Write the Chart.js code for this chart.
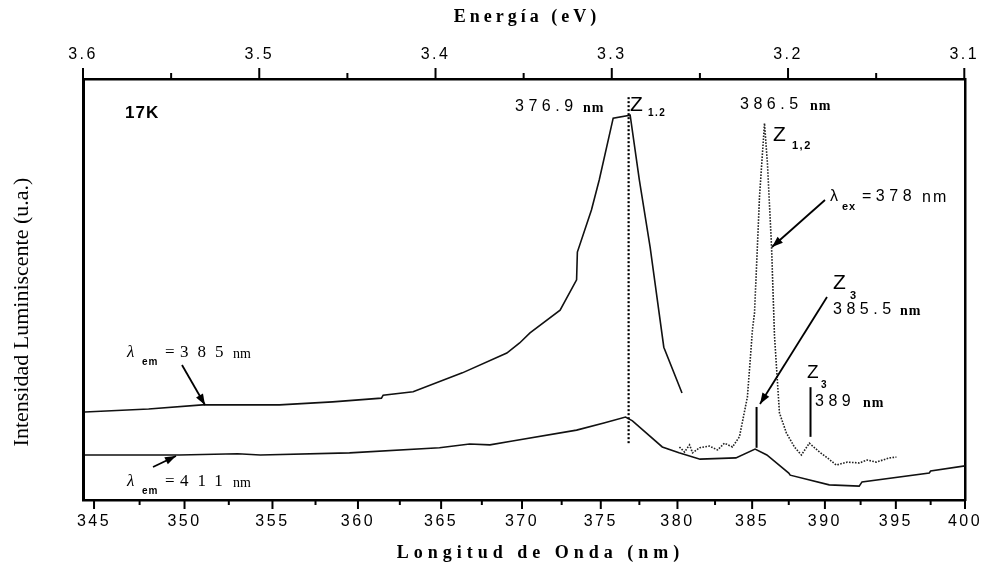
<!DOCTYPE html>
<html><head><meta charset="utf-8">
<script src="https://cdn.jsdelivr.net/npm/chart.js@4/dist/chart.umd.min.js"></script>
<style>html,body{margin:0;padding:0;background:#fff}canvas{display:block}</style>
</head><body>
<canvas id="c" width="984" height="573"></canvas>
<script>
const HC = 1239.84; // eV·nm, converts wavelength to energy
const energyMajor = [3.6, 3.5, 3.4, 3.3, 3.2, 3.1];
const energyMinor = [3.55, 3.45, 3.35, 3.25, 3.15];
const wavelengthMajor = [345, 350, 355, 360, 365, 370, 375, 380, 385, 390, 395, 400];
const wavelengthMinor = [347.5, 352.5, 357.5, 362.5, 367.5, 372.5, 377.5, 382.5, 387.5, 392.5, 397.5];

// λem = 385 nm (excitation spectrum)
const lamEm385 = [344.5, 348.0, 351.0, 355.4, 358.5, 361.4, 361.5, 363.3, 366.3, 369.05, 369.85, 370.5, 372.4, 373.45, 373.5, 374.4, 374.9, 375.8, 376.9, 377.5, 378.2, 379.1, 380.3];
const intEm385 = [20.9, 21.6, 22.6, 22.6, 23.3, 24.2, 24.9, 25.7, 30.2, 34.9, 37.3, 39.7, 45.1, 52.3, 58.9, 68.9, 76.0, 90.7, 91.4, 76.0, 60.1, 36.3, 25.4];

// λem = 411 nm
const lamEm411 = [344.5, 349.7, 353.0, 354.3, 359.5, 364.9, 366.75, 368.0, 369.4, 373.45, 375.2, 376.6, 377.05, 379.0, 380.1, 381.5, 383.9, 385.2, 386.0, 387.5, 387.6, 390.3, 392.4, 392.6, 397.4, 397.5, 400.0];
const intEm411 = [10.7, 10.7, 11.0, 10.7, 11.2, 12.4, 13.3, 13.1, 14.0, 16.6, 18.3, 19.7, 18.8, 12.6, 11.2, 9.7, 10.0, 12.1, 10.7, 6.4, 5.9, 3.6, 3.3, 4.3, 6.4, 6.9, 8.1];

// λex = 378 nm (emission spectrum, dotted)
const lamEx378 = [380.13, 380.47, 380.8, 381.0, 381.47, 382.12, 382.67, 383.13, 383.67, 384.14, 384.68, 385.02, 385.16, 385.5, 385.84, 386.04, 386.32, 386.52, 386.86, 387.34, 387.89, 388.37, 388.92, 389.62, 390.17, 390.79, 391.57, 392.42, 392.97, 393.61, 394.54, 395.04];
const intEx378 = [12.6, 11.4, 13.1, 11.2, 12.4, 12.8, 11.9, 13.5, 12.6, 15.0, 24.5, 40.4, 44.4, 72.0, 89.5, 80.0, 60.1, 39.2, 20.7, 15.9, 12.6, 10.7, 13.5, 11.4, 10.0, 8.3, 9.0, 8.8, 9.5, 9.0, 10.0, 10.2];

// peak marker lines: wavelength, low/high intensity
const markerLam = [376.8, 385.3, 389.0];
const markerLow = [13.5, 12.4, 15.0];
const markerHigh = [95.7, 22.1, 26.8];

const toE = l => HC / l;
const pts = (lam, val) => lam.map((l, i) => ({x: toE(l), y: val[i]}));

const SANS = "'Liberation Sans', Arial, sans-serif";
const SERIF = "'Liberation Serif', 'Times New Roman', serif";

function txt(ctx, s, x, y, font, ls) {
  ctx.font = font; ctx.letterSpacing = (ls || 0) + 'px';
  ctx.textAlign = 'left'; ctx.textBaseline = 'middle';
  ctx.fillText(s, x, y);
}
function ctxt(ctx, s, cx, cy, font, ls) {
  ctx.font = font; ctx.letterSpacing = (ls || 0) + 'px';
  const w = ctx.measureText(s).width - (ls || 0);
  ctx.textAlign = 'left'; ctx.textBaseline = 'middle';
  ctx.fillText(s, cx - w / 2, cy);
}
function arrow(ctx, x1, y1, x2, y2) {
  ctx.beginPath(); ctx.moveTo(x1, y1); ctx.lineTo(x2, y2); ctx.stroke();
  const a = Math.atan2(y2 - y1, x2 - x1), L = 11, W = 4;
  ctx.beginPath(); ctx.moveTo(x2, y2);
  ctx.lineTo(x2 - L * Math.cos(a) + W * Math.sin(a), y2 - L * Math.sin(a) - W * Math.cos(a));
  ctx.lineTo(x2 - L * Math.cos(a) - W * Math.sin(a), y2 - L * Math.sin(a) + W * Math.cos(a));
  ctx.closePath(); ctx.fill();
}

const decor = {
  id: 'decor',
  beforeDraw(chart) { chart.ctx.letterSpacing = '2.5px'; },
  beforeDatasetsDraw(chart) { chart.ctx.letterSpacing = '0px'; },
  afterDraw(chart) {
    const ctx = chart.ctx, xs = chart.scales.x, xt = chart.scales.xTop, ys = chart.scales.y, a = chart.chartArea;
    ctx.save();
    ctx.strokeStyle = '#000'; ctx.fillStyle = '#000'; ctx.lineWidth = 2;
    const vl = (x, y1, y2) => { ctx.beginPath(); ctx.moveTo(x, y1); ctx.lineTo(x, y2); ctx.stroke(); };
    // tick marks
    wavelengthMajor.forEach(l => vl(xs.getPixelForValue(toE(l)), a.bottom, a.bottom + 9));
    wavelengthMinor.forEach(l => vl(xs.getPixelForValue(toE(l)), a.bottom, a.bottom + 5));
    energyMajor.forEach(e => vl(xt.getPixelForValue(e), a.top, a.top - 11));
    energyMinor.forEach(e => vl(xt.getPixelForValue(e), a.top, a.top - 6));
    // marker lines
    markerLam.forEach((l, i) => {
      const x = xs.getPixelForValue(toE(l));
      if (i === 0) { ctx.setLineDash([2, 2]); ctx.lineWidth = 2.2; } else { ctx.setLineDash([]); ctx.lineWidth = 2; }
      vl(x, ys.getPixelForValue(markerLow[i]), ys.getPixelForValue(markerHigh[i]));
    });
    ctx.setLineDash([]); ctx.lineWidth = 1.8;
    // arrows
    arrow(ctx, 182, 365, 205, 405);
    arrow(ctx, 153, 467, 176, 456);
    arrow(ctx, 825, 200, 772, 247);
    arrow(ctx, 827, 297, 760, 404);
    // labels
    const num = '16px ' + SANS, nm = 'bold 14px ' + SERIF, sub = 'bold 10px ' + SANS;
    txt(ctx, '17K', 125, 113, 'bold 17px ' + SANS, 1);
    txt(ctx, '376.9', 515, 107, num, 4.5); txt(ctx, 'nm', 583, 108, nm, 1);
    txt(ctx, 'Z', 630, 105, '21px ' + SANS); txt(ctx, '1.2', 648, 113, sub, 1.5);
    txt(ctx, '386.5', 740, 105, num, 4.5); txt(ctx, 'nm', 810, 106, nm, 1);
    txt(ctx, 'Z', 773, 135, '21px ' + SANS); txt(ctx, '1,2', 792, 146, 'bold 11px ' + SANS, 1.5);
    txt(ctx, 'λ', 830, 197, '16px ' + SANS); txt(ctx, 'ex', 842, 207, 'bold 11px ' + SANS, 1);
    txt(ctx, '=378', 862, 197, num, 4.5); txt(ctx, 'nm', 922, 198, '16px ' + SANS, 2);
    txt(ctx, 'Z', 833, 283, '21px ' + SANS); txt(ctx, '3', 850, 296, 'bold 11px ' + SANS);
    txt(ctx, '385.5', 833, 310, num, 4.5); txt(ctx, 'nm', 900, 311, nm, 1);
    txt(ctx, 'Z', 807, 373, '19px ' + SANS); txt(ctx, '3', 821, 385, sub);
    txt(ctx, '389', 815, 402, num, 4.5); txt(ctx, 'nm', 863, 403, nm, 1);
    [[353, '385'], [482, '411']].forEach(([y, v]) => {
      txt(ctx, 'λ', 127, y, 'italic 17px ' + SERIF);
      txt(ctx, 'em', 142, y + 9, sub, 1);
      txt(ctx, '=', 165, y, '17px ' + SERIF);
      txt(ctx, v, 180, y, '17px ' + SERIF, 9);
      txt(ctx, 'nm', 233, y + 1, '14px ' + SERIF);
    });
    // axis titles
    ctxt(ctx, 'Energía (eV)', 525, 17, 'bold 18px ' + SERIF, 4);
    ctxt(ctx, 'Longitud de Onda (nm)', 538, 553, 'bold 18px ' + SERIF, 5);
    ctx.save(); ctx.translate(22, 312); ctx.rotate(-Math.PI / 2);
    ctxt(ctx, 'Intensidad Luminiscente (u.a.)', 0, 0, '22px ' + SERIF, 0);
    ctx.restore();
    ctx.restore();
  }
};

const line = (data, dash) => ({
  data, borderColor: '#111', borderWidth: 1.6, borderDash: dash || [], pointRadius: 0, tension: 0, fill: false
});
const noPad = s => { s.paddingLeft = 0; s.paddingRight = 0; s.paddingTop = 0; s.paddingBottom = 0; };

new Chart(document.getElementById('c'), {
  type: 'line',
  data: { datasets: [
    Object.assign(line(pts(lamEm385, intEm385)), {label: 'λem=385 nm'}),
    Object.assign(line(pts(lamEm411, intEm411)), {label: 'λem=411 nm'}),
    Object.assign(line(pts(lamEx378, intEx378), [1.6, 1.4]), {label: 'λex=378 nm', borderColor: '#222'})
  ]},
  options: {
    responsive: false, animation: false, devicePixelRatio: 1,
    layout: { padding: { left: 0, right: 19, top: 0, bottom: 0 } },
    plugins: { legend: { display: false }, tooltip: { enabled: false } },
    scales: {
      x: {
        type: 'linear', position: 'bottom', reverse: true, min: HC / 400, max: 3.6,
        grid: { display: false, drawTicks: false },
        border: { display: true, color: '#000', width: 2.5 },
        afterBuildTicks: s => { s.ticks = wavelengthMajor.map(l => ({ value: toE(l) })); },
        ticks: { autoSkip: false, maxRotation: 0, padding: 12, color: '#000',
          font: { family: SANS, size: 16 }, callback: v => String(Math.round(HC / v)) },
        afterFit: s => { s.height = 73; noPad(s); }
      },
      xTop: {
        type: 'linear', position: 'top', reverse: true, min: HC / 400, max: 3.6,
        grid: { display: false, drawTicks: false },
        border: { display: true, color: '#000', width: 2.5 },
        afterBuildTicks: s => { s.ticks = energyMajor.map(e => ({ value: e })); },
        ticks: { autoSkip: false, maxRotation: 0, padding: 15, color: '#000',
          font: { family: SANS, size: 16 }, callback: v => v.toFixed(1) },
        afterFit: s => { s.height = 79; noPad(s); }
      },
      y: {
        type: 'linear', position: 'left', min: 0, max: 100,
        grid: { display: false, drawTicks: false },
        border: { display: true, color: '#000', width: 3 },
        ticks: { display: false },
        afterFit: s => { s.width = 83; noPad(s); }
      },
      yRight: {
        type: 'linear', position: 'right', min: 0, max: 100,
        grid: { display: false, drawTicks: false },
        border: { display: true, color: '#000', width: 2.5 },
        ticks: { display: false },
        afterFit: s => { s.width = 0; noPad(s); }
      }
    }
  },
  plugins: [decor]
});
</script>
</body></html>
